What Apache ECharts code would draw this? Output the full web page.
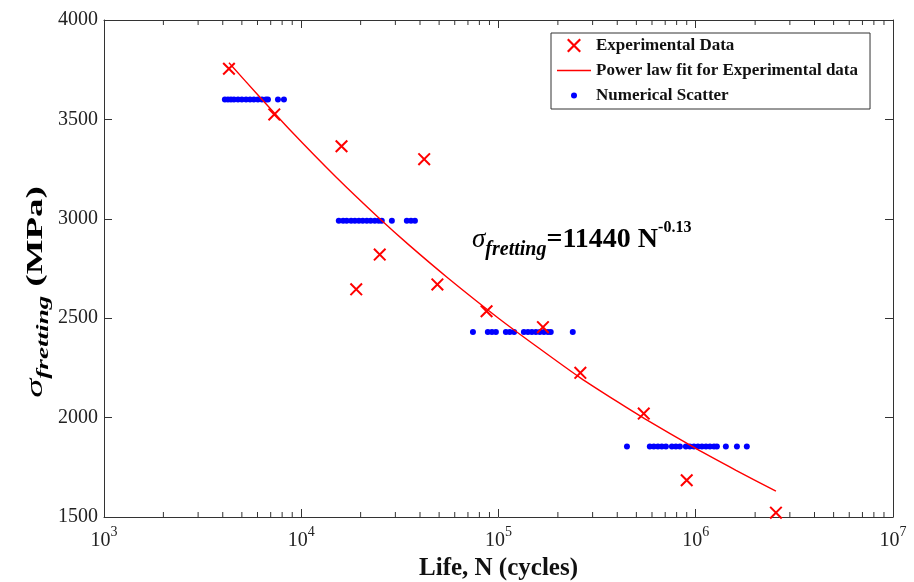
<!DOCTYPE html>
<html><head><meta charset="utf-8">
<script src="https://cdn.jsdelivr.net/npm/echarts@6/dist/echarts.min.js"></script>
<style>html,body{margin:0;padding:0;background:#fff}#c{width:914px;height:582px}</style>
</head><body><div id="c"></div><script>
// ---- data ----
const expN = [4300, 7300, 16000, 42000, 25000, 19000, 49000, 87000, 168000, 260000, 545000, 900000, 2550000];
const expS = [3755, 3525, 3365, 3300, 2820, 2645, 2670, 2535, 2455, 2225, 2020, 1685, 1522];

const fitN = [4300, 6000, 8800, 15000, 25000, 35000, 55000, 100000, 160000, 260000, 400000, 550000, 1000000, 1600000, 2550000];
const fitS = [3785, 3625, 3445, 3210, 3000, 2870, 2705, 2500, 2350, 2200, 2080, 1995, 1845, 1735, 1630];

const numLevels = [3600, 2990, 2430, 1855];
const numRow1N = [4100, 4250, 4400, 4560, 4780, 5000, 5250, 5500, 5750, 6030, 6320, 6620, 6780, 7620, 8170];
const numRow2N = [15500, 16300, 17000, 17900, 18700, 19600, 20500, 21500, 22500, 23600, 24700, 25600, 28800, 34300, 36000, 37700];
const numRow3N = [74200, 88300, 92600, 97000, 109000, 114000, 120000, 134500, 141000, 147600, 154700, 162000, 170000, 178000, 184000, 238000];
const numRow4N = [448000, 585000, 613000, 643000, 673000, 706000, 757000, 793000, 831000, 891000, 934000, 979000, 1026000, 1075000, 1127000, 1180000, 1237000, 1280000, 1421000, 1617000, 1815000];

const yTicks = [1500, 2000, 2500, 3000, 3500, 4000];
const minorTickVals = [2000,3000,4000,5000,6000,7000,8000,9000,
  20000,30000,40000,50000,60000,70000,80000,90000,
  200000,300000,400000,500000,600000,700000,800000,900000,
  2000000,3000000,4000000,5000000,6000000,7000000,8000000,9000000];

// ---- build ----
const expData = expN.map((n, i) => [n, expS[i]]);
const fitData = fitN.map((n, i) => [n, fitS[i]]);
const numRows = [numRow1N, numRow2N, numRow3N, numRow4N];
const numData = [];
numRows.forEach((row, r) => row.forEach(n => numData.push([n, numLevels[r]])));

const FONT = 'Liberation Serif';
const AX = '#333';
const xSym = 'path://M0,1.1L1.1,0L10,8.9L8.9,10ZM8.9,0L10,1.1L1.1,10L0,8.9Z';
const dotIcon = 'path://M-7,-7M7,7M-3,0A3,3 0 1 1 3,0A3,3 0 1 1 -3,0Z';

const chart = echarts.init(document.getElementById('c'), null, {renderer: 'canvas'});
chart.setOption({
  animation: false,
  backgroundColor: '#fff',
  grid: {left: 104, right: 21, top: 20, bottom: 65, outerBoundsMode: 'none', containLabel: false},
  legend: {
    orient: 'vertical', left: 551, top: 33,
    borderColor: '#333', borderWidth: 1, backgroundColor: '#fff',
    padding: [4, 12, 5, 6], itemGap: 8, itemWidth: 34, itemHeight: 14,
    textStyle: {fontFamily: FONT, fontWeight: 'bold', fontSize: 17, color: '#111'},
    data: [
      {name: 'Experimental Data'},
      {name: 'Power law fit for Experimental data', icon: 'path://M0,0L34,0L34,1.4L0,1.4Z'},
      {name: 'Numerical Scatter', icon: dotIcon}
    ]
  },
  xAxis: [{
    type: 'log', logBase: 10, min: 1000, max: 10000000, interval: 1, position: 'bottom',
    axisLine: {show: true, lineStyle: {color: AX, width: 1}},
    axisTick: {inside: true, length: 8, lineStyle: {color: AX}},
    splitLine: {show: false}, minorTick: {show: false},
    axisLabel: {
      margin: 8, color: '#222',
      formatter: v => '{b|10}{s|' + Math.round(Math.log10(v)) + '}',
      rich: {
        b: {fontFamily: FONT, fontSize: 20, color: '#222', lineHeight: 26, verticalAlign: 'bottom'},
        s: {fontFamily: FONT, fontSize: 14, color: '#222', lineHeight: 26, verticalAlign: 'top'}
      }
    },
    name: 'Life, N (cycles)', nameLocation: 'middle', nameGap: 33,
    nameTextStyle: {fontFamily: FONT, fontWeight: 'bold', fontSize: 25, color: '#111'}
  }, {
    type: 'log', logBase: 10, min: 1000, max: 10000000, interval: 1, position: 'top',
    axisLine: {show: true, lineStyle: {color: AX, width: 1}},
    axisTick: {inside: true, length: 8, lineStyle: {color: AX}},
    axisLabel: {show: false}, splitLine: {show: false}
  }],
  yAxis: [{
    type: 'value', min: 1500, max: 4000, interval: 500, position: 'left',
    axisLine: {show: true, lineStyle: {color: AX, width: 1}},
    axisTick: {inside: true, length: 8, lineStyle: {color: AX}},
    splitLine: {show: false},
    axisLabel: {margin: 6, fontFamily: FONT, fontSize: 20, color: '#222',
      formatter: v => yTicks.includes(v) ? String(v) : ''}
  }, {
    type: 'value', min: 1500, max: 4000, interval: 500, position: 'right',
    axisLine: {show: true, lineStyle: {color: AX, width: 1}},
    axisTick: {inside: true, length: 8, lineStyle: {color: AX}},
    axisLabel: {show: false}, splitLine: {show: false}
  }],
  graphic: [{
    type: 'text', x: 36, y: 292, rotation: Math.PI / 2, scaleX: 1.6, scaleY: 1,
    style: {
      text: '{g|σ}{sub|fretting}{m| (MPa)}', align: 'center', verticalAlign: 'middle',
      rich: {
        g: {fontFamily: FONT, fontStyle: 'italic', fontSize: 24, color: '#111', lineHeight: 32, verticalAlign: 'middle'},
        sub: {fontFamily: FONT, fontStyle: 'italic', fontWeight: 'bold', fontSize: 17, color: '#111', lineHeight: 32, verticalAlign: 'bottom'},
        m: {fontFamily: FONT, fontWeight: 'bold', fontSize: 23, color: '#111', lineHeight: 32, verticalAlign: 'middle'}
      }
    }
  }, {
    type: 'text', x: 472, y: 240,
    style: {
      text: '{g|σ}{sub|fretting}{m|=11440 N}{sup|-0.13}', align: 'left', verticalAlign: 'middle',
      rich: {
        g: {fontFamily: FONT, fontStyle: 'italic', fontSize: 27, color: '#111', lineHeight: 40, verticalAlign: 'middle'},
        sub: {fontFamily: FONT, fontStyle: 'italic', fontWeight: 'bold', fontSize: 20, color: '#111', lineHeight: 40, verticalAlign: 'bottom'},
        m: {fontFamily: FONT, fontWeight: 'bold', fontSize: 28, color: '#111', lineHeight: 40, verticalAlign: 'middle'},
        sup: {fontFamily: FONT, fontWeight: 'bold', fontSize: 16, color: '#111', lineHeight: 40, verticalAlign: 'top'}
      }
    }
  }],
  series: [{
    type: 'custom', name: 'minorTicks', silent: true, clip: false, z: 1,
    data: minorTickVals.map(v => [v]), encode: {x: 0},
    renderItem: (params, api) => {
      const v = api.value(0);
      const b = api.coord([v, 1500]);
      const t = api.coord([v, 4000]);
      return {type: 'group', children: [
        {type: 'line', shape: {x1: b[0], y1: b[1], x2: b[0], y2: b[1] - 5}, style: {stroke: AX, lineWidth: 1}},
        {type: 'line', shape: {x1: t[0], y1: t[1], x2: t[0], y2: t[1] + 5}, style: {stroke: AX, lineWidth: 1}}
      ]};
    }
  }, {
    name: 'Numerical Scatter', type: 'scatter', z: 2,
    symbol: 'circle', symbolSize: 6, itemStyle: {color: '#0000ff', opacity: 1},
    data: numData
  }, {
    name: 'Power law fit for Experimental data', type: 'line', z: 3,
    symbol: 'none', showSymbol: false, smooth: 0.2, lineStyle: {color: '#ff0000', width: 1.4},
    itemStyle: {color: '#ff0000'}, data: fitData
  }, {
    name: 'Experimental Data', type: 'scatter', z: 4,
    symbol: xSym, symbolSize: 13, symbolKeepAspect: true,
    itemStyle: {color: '#ff0000', opacity: 1}, data: expData
  }]
});
</script></body></html>
